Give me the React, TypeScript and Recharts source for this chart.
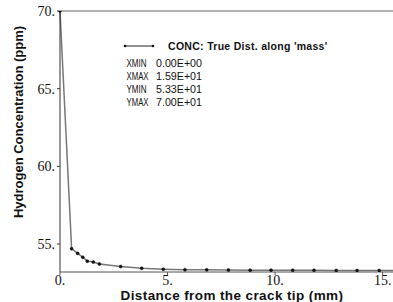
import { Customized, Line, LineChart, ReferenceLine, XAxis, YAxis } from "recharts";

const distance = [0, 0.54, 0.82, 1.06, 1.27, 1.55, 1.83, 2.82, 3.8, 4.8, 5.81, 6.82, 7.83, 8.84, 9.81, 10.82, 11.81, 12.84, 13.81, 14.84, 15.9];
const conc = [70, 54.7, 54.4, 54.15, 53.9, 53.84, 53.72, 53.55, 53.44, 53.38, 53.35, 53.34, 53.33, 53.32, 53.32, 53.31, 53.31, 53.3, 53.3, 53.3, 53.3];
const xTicks = [0, 5, 10, 15];
const yTicks = [55, 60, 65, 70];
const legendRows = [
  ["XMIN", "0.00E+00"],
  ["XMAX", "1.59E+01"],
  ["YMIN", "5.33E+01"],
  ["YMAX", "7.00E+01"],
];
const seriesName = "CONC: True Dist. along 'mass'";
const xTitle = "Distance from the crack tip (mm)";
const yTitle = "Hydrogen Concentration (ppm)";

const data = distance.map((d, i) => ({ d, c: conc[i] }));

const sans = "'Liberation Sans', Arial, sans-serif";
const serif = "'Liberation Serif', 'Times New Roman', serif";

function Info() {
  return (
    <g fontFamily={sans} fill="#111">
      <line x1={125} y1={46} x2={153} y2={46} stroke="#222" strokeWidth={1} />
      <circle cx={125} cy={46} r={1.3} fill="#111" />
      <circle cx={153} cy={46} r={1.3} fill="#111" />
      <text x={168} y={50} fontSize={10.5} fontWeight="bold" letterSpacing={0.3}>{seriesName}</text>
      {legendRows.map(([k, v], i) => (
        <g key={k}>
          <text x={126.5} y={66.5 + i * 13.2} fontSize={10.5} textLength={k === "XMAX" || k === "YMAX" ? 22 : 20} lengthAdjust="spacingAndGlyphs">{k}</text>
          <text x={156} y={66.5 + i * 13.2} fontSize={10} textLength={46} lengthAdjust="spacingAndGlyphs">{v}</text>
        </g>
      ))}
      <text x={232} y={300} fontSize={13.5} fontWeight="bold" textAnchor="middle" letterSpacing={0.4}>{xTitle}</text>
      <text x={23} y={122} fontSize={13} fontWeight="bold" textAnchor="middle" transform="rotate(-90 23 122)">{yTitle}</text>
    </g>
  );
}

export default function App() {
  return (
    <div style={{ width: 393, height: 302, overflow: "hidden", background: "#fff" }}>
      <style>{`body{margin:0;overflow:hidden}`}</style>
      <LineChart width={403} height={302} data={data} margin={{ top: 11, right: 1, bottom: 0, left: 0 }}>
        <XAxis
          dataKey="d"
          type="number"
          domain={[0, 15.9]}
          ticks={xTicks}
          tickFormatter={(v) => `${v}.`}
          tick={{ fontSize: 14, fill: "#111", fontFamily: serif }}
          tickSize={3}
          tickMargin={0}
          stroke="#555"
          height={30}
        />
        <YAxis
          type="number"
          domain={[53.2, 70]}
          ticks={yTicks}
          tickFormatter={(v) => `${v}.`}
          tick={{ fontSize: 14, fill: "#111", fontFamily: serif }}
          tickSize={3}
          stroke="#333"
          width={60}
          allowDataOverflow
        />
        <ReferenceLine y={70} stroke="#999" strokeWidth={1.5} />
        <Line
          dataKey="c"
          stroke="#777"
          strokeWidth={1.5}
          dot={{ r: 1.5, fill: "#111", stroke: "#111", strokeWidth: 0.5 }}
          isAnimationActive={false}
        />
        <Customized component={Info} />
      </LineChart>
    </div>
  );
}
